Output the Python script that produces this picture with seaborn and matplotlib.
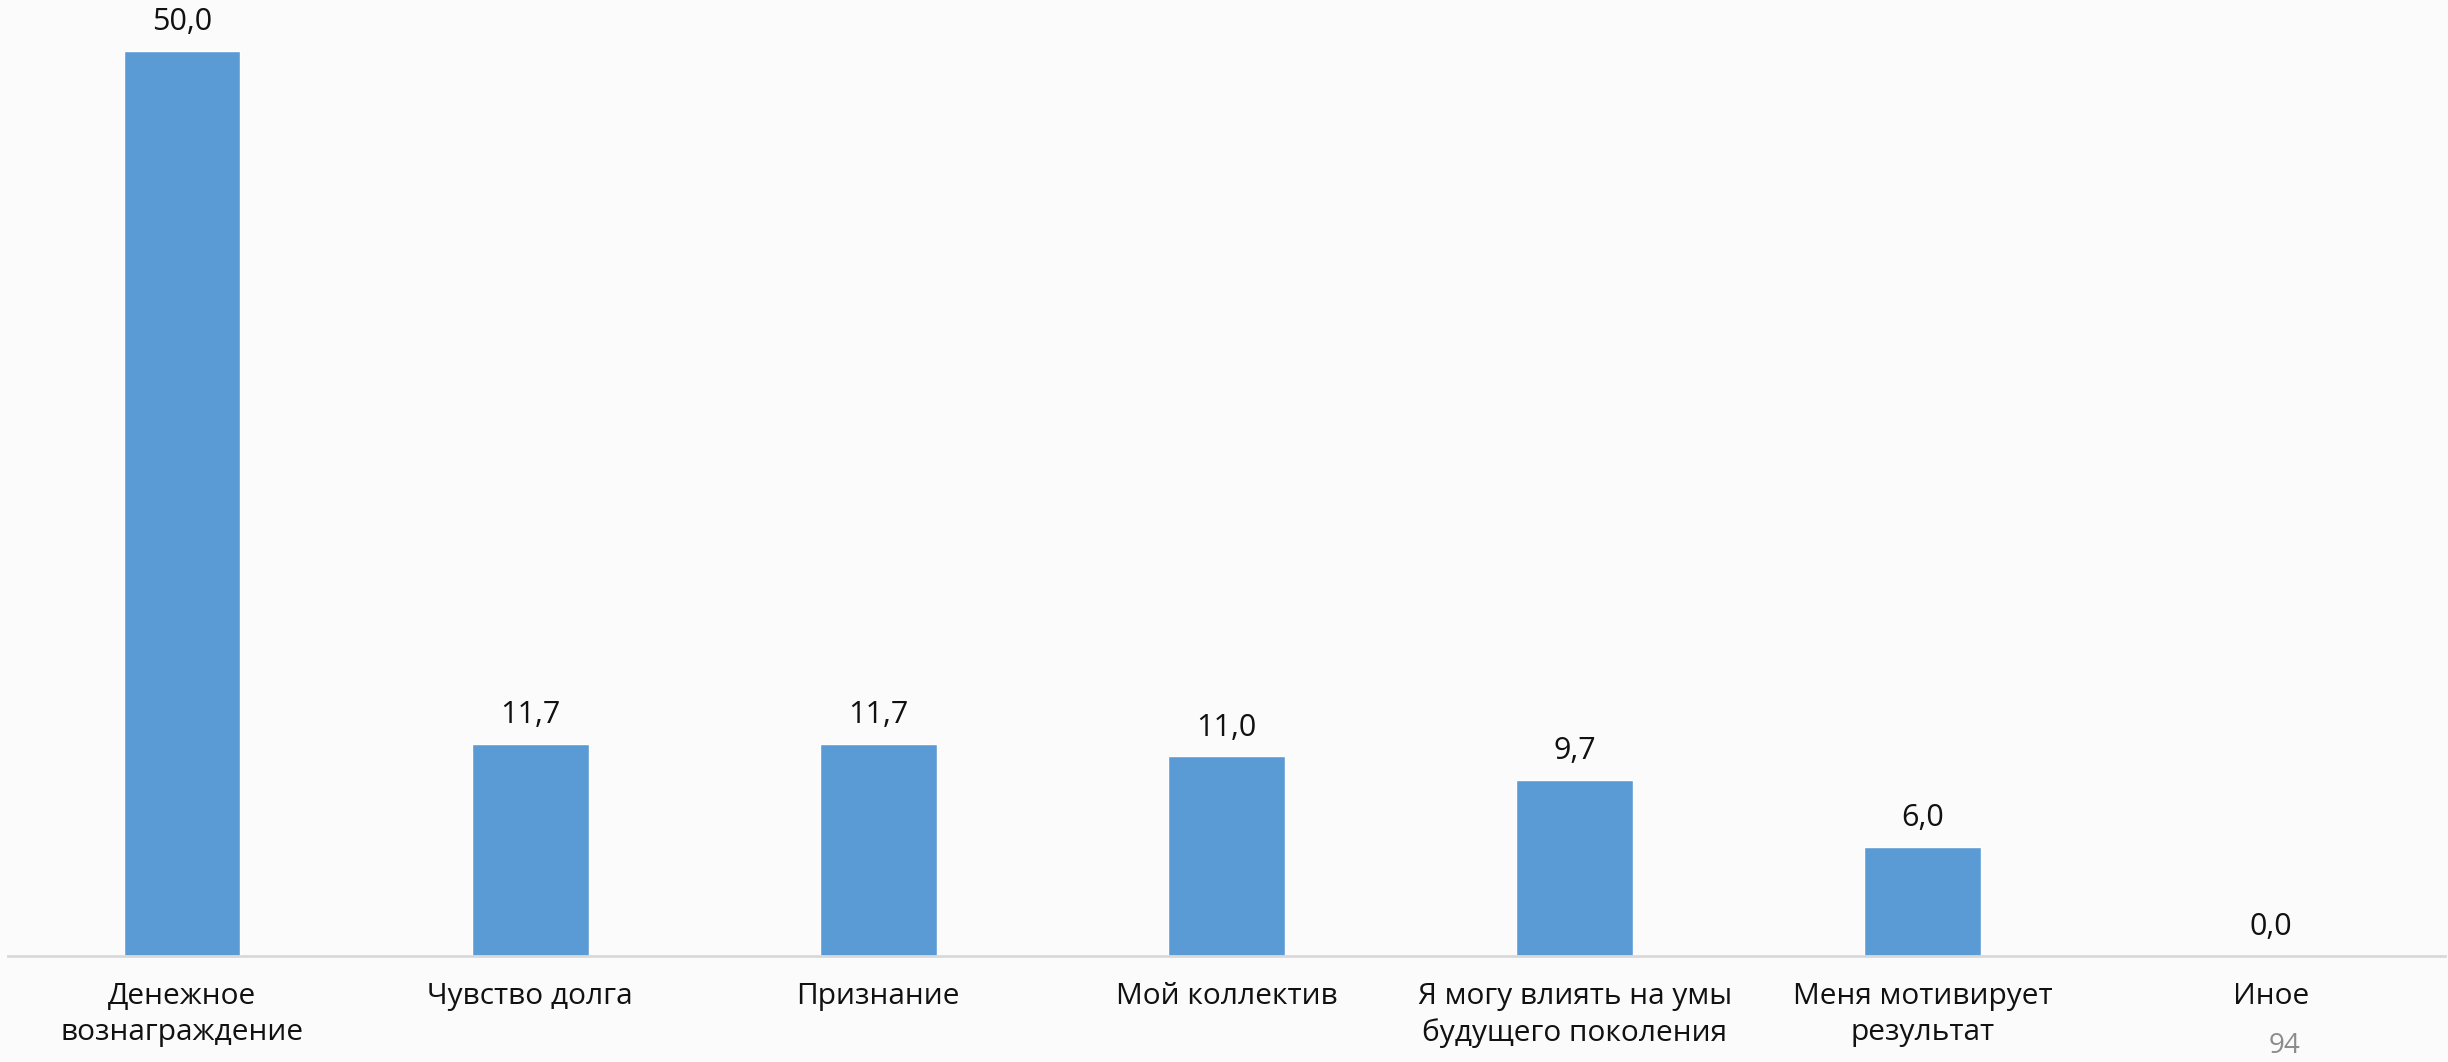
import matplotlib
matplotlib.use("Agg")
import matplotlib.pyplot as plt
import seaborn as sns
import pandas as pd

categories = ["Денежное\nвознаграждение", "Чувство долга", "Признание", "Мой коллектив",
              "Я могу влиять на умы\nбудущего поколения", "Меня мотивирует\nрезультат", "Иное"]
values = [50.0, 11.7, 11.7, 11.0, 9.7, 6.0, 0.0]
page_number = "94"

sns.set_theme(style="white")
plt.rcParams['font.family'] = ['Open Sans', 'DejaVu Sans']

W, H = 2448, 1062
fig = plt.figure(figsize=(W / 100, H / 100), dpi=100)
bg = "#fbfbfc"
fig.patch.set_facecolor(bg)
ax = fig.add_axes([8 / W, (H - 955.5) / H, (2445 - 8) / W, 955.5 / H])
ax.set_facecolor(bg)

df = pd.DataFrame({"cat": categories, "val": values})
sns.barplot(data=df, x="cat", y="val", color="#5b9bd5", saturation=1, width=0.335, ax=ax)

ax.set_xlim(-0.5, len(categories) - 0.5)
ax.set_ylim(0, 52.8)
for s in ["top", "right", "left"]:
    ax.spines[s].set_visible(False)
ax.spines["bottom"].set_color("#d9d9d9")
ax.spines["bottom"].set_linewidth(2)
ax.set_yticks([])
ax.set_xlabel("")
ax.set_ylabel("")
ax.tick_params(axis="x", length=0, pad=19, labelsize=21.5, colors="#111111")
for lbl in ax.get_xticklabels():
    lbl.set_linespacing(1.32)

for i, v in enumerate(values):
    ax.annotate(f"{v:.1f}".replace(".", ","), (i, v), xytext=(0, 10), textcoords="offset points",
                ha="center", va="bottom", fontsize=22, color="#111111")

fig.text(2284 / W, 1 - 1046 / H, page_number, ha="center", va="center", fontsize=20, color="#8c8c8c")

fig.savefig("out.png", dpi=100, facecolor=bg)
